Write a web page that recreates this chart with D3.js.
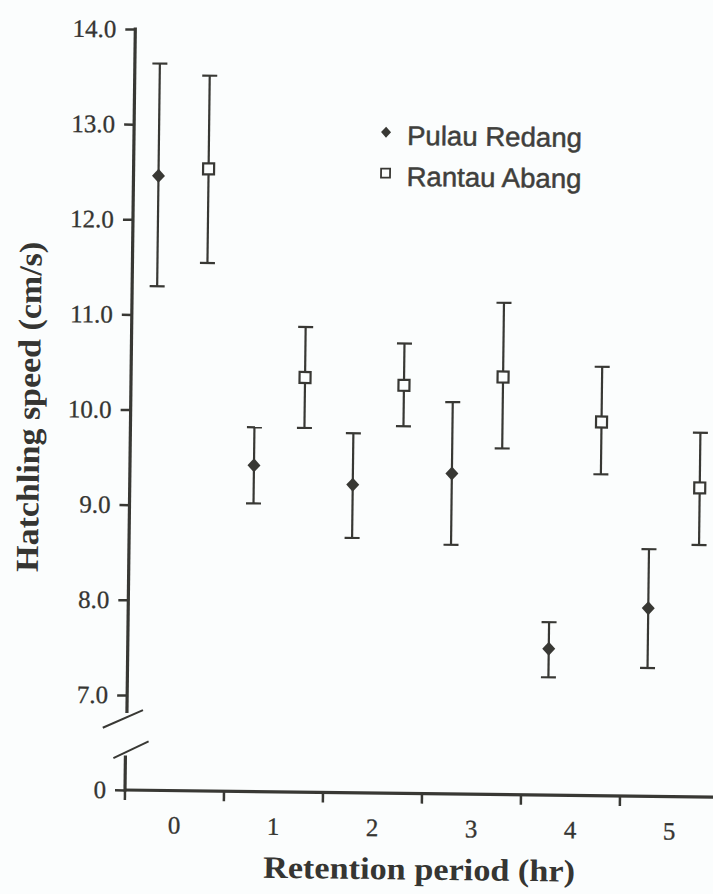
<!DOCTYPE html>
<meta charset="utf-8">
<style>
body {
	margin: 0;
	padding: 0;
	background: #fbfdfd;
}
svg text {
	fill: #353532;
}
.tick-label {
	font-family: "Liberation Serif", "Times New Roman", serif;
	font-size: 25px;
	stroke: #353532;
	stroke-width: 0.3px;
}
.axis-title {
	font-family: "Liberation Serif", "Times New Roman", serif;
	font-weight: bold;
}
.legend-label {
	font-family: "Liberation Sans", Arial, sans-serif;
	font-size: 27px;
	fill: #3f3f3c;
	stroke: #3f3f3c;
	stroke-width: 0.5px;
}
</style>
<body>
<div id="chart"></div>
<script src="https://cdn.jsdelivr.net/npm/d3@7/dist/d3.min.js"></script>
<script>

// retention period (hr) and hatchling speed (cm/s), mean with error bar ends
var periods = [0, 1, 2, 3, 4, 5];

var redangMean  = [12.46, 9.43, 9.24, 9.37, 7.54, 7.98];
var redangUpper = [13.64, 9.83, 9.78, 10.12, 7.82, 8.60];
var redangLower = [11.30, 9.03, 8.68, 8.62, 7.24, 7.35];

var abangMean  = [12.54, 10.36, 10.29, 10.39, 9.93, 9.25];
var abangUpper = [13.52, 10.89, 10.73, 11.17, 10.51, 9.83];
var abangLower = [11.55, 9.83, 9.86, 9.64, 9.38, 8.65];

var yTicks = [7, 8, 9, 10, 11, 12, 13, 14];
var seriesNames = ["Pulau Redang", "Rantau Abang"];

var width = 713, height = 894;
var ink = "#383834";

var svg = d3.select("#chart").append("svg")
	.attr("width", width)
	.attr("height", height);

// the scanned figure sits slightly askew
var g = svg.append("g")
	.attr("transform", "rotate(0.7, 126, 790)");

var axisX = 126, baseY = 790;

var x = d3.scaleBand()
	.domain(periods)
	.range([125, 125 + 6 * 99])
	.paddingInner(0).paddingOuter(0);

var y = d3.scaleLinear()
	.domain([7, 14])
	.range([695, 29]);

// lower stub of the broken y axis, only holds the 0
var yLow = d3.scaleLinear()
	.domain([0, 1])
	.range([baseY, 742]);

// y axis (upper part)
var yAxis = d3.axisLeft(y)
	.tickValues(yTicks)
	.tickFormat(d3.format(".1f"))
	.tickSize(10)
	.tickPadding(9)
	.tickSizeOuter(0);

var ya = g.append("g")
	.attr("transform", "translate(" + axisX + ",0)")
	.call(yAxis);
ya.select(".domain").remove();
ya.selectAll(".tick line").attr("stroke", ink).attr("stroke-width", 2.5);
ya.selectAll(".tick text").attr("class", "tick-label").attr("font-family", null).attr("font-size", null);

g.append("line")
	.attr("x1", axisX).attr("x2", axisX)
	.attr("y1", y(14) - 1.5).attr("y2", y(7) + 18)
	.attr("stroke", ink).attr("stroke-width", 3.2);

// lower part with the 0
var yl = g.append("g")
	.attr("transform", "translate(" + (axisX - 1) + ",0)")
	.call(d3.axisLeft(yLow).tickValues([0]).tickFormat(d3.format("d")).tickSize(10).tickPadding(9).tickSizeOuter(0));
yl.select(".domain").remove();
yl.selectAll(".tick line").attr("stroke", ink).attr("stroke-width", 2.5);
yl.selectAll(".tick text").attr("class", "tick-label").attr("font-family", null).attr("font-size", null);

g.append("line")
	.attr("x1", axisX - 1).attr("x2", axisX - 1)
	.attr("y1", yLow(0) + 1.5).attr("y2", yLow(0.72))
	.attr("stroke", ink).attr("stroke-width", 3.2);

// break marks
g.append("line")
	.attr("x1", axisX - 24).attr("y1", y(7) + 33)
	.attr("x2", axisX + 16).attr("y2", y(7) + 15)
	.attr("stroke", ink).attr("stroke-width", 2);
g.append("line")
	.attr("x1", axisX - 13).attr("y1", yLow(0.66))
	.attr("x2", axisX + 22).attr("y2", yLow(1.02))
	.attr("stroke", ink).attr("stroke-width", 2);

// x axis
g.append("line")
	.attr("x1", axisX - 2).attr("x2", width + 10)
	.attr("y1", baseY).attr("y2", baseY)
	.attr("stroke", ink).attr("stroke-width", 3.2);

g.selectAll(".xtick")
	.data(periods)
	.enter().append("line")
	.attr("class", "xtick")
	.attr("x1", function(d) { return x(d); })
	.attr("x2", function(d) { return x(d); })
	.attr("y1", baseY)
	.attr("y2", baseY + 10)
	.attr("stroke", ink).attr("stroke-width", 2.5);

g.selectAll(".xlabel")
	.data(periods)
	.enter().append("text")
	.attr("class", "tick-label")
	.attr("x", function(d) { return x(d) + x.bandwidth() / 2; })
	.attr("y", 833)
	.attr("text-anchor", "middle")
	.text(function(d) { return d; });

// axis titles
g.append("text")
	.attr("class", "axis-title")
	.attr("x", 420)
	.attr("y", 876)
	.attr("text-anchor", "middle")
	.attr("font-size", 31)
	.attr("textLength", 312)
	.attr("lengthAdjust", "spacingAndGlyphs")
	.text("Retention period (hr)");

g.append("text")
	.attr("class", "axis-title")
	.attr("transform", "translate(35,408) rotate(-90)")
	.attr("text-anchor", "middle")
	.attr("font-size", 32)
	.attr("textLength", 330)
	.attr("lengthAdjust", "spacingAndGlyphs")
	.text("Hatchling speed (cm/s)");

// series
var series = [
	{name: seriesNames[0], mean: redangMean, upper: redangUpper, lower: redangLower, dx: -23.5, shape: "diamond"},
	{name: seriesNames[1], mean: abangMean, upper: abangUpper, lower: abangLower, dx: 26.5, shape: "square"}
];

var diamond = "M0,-7L6.5,0L0,7L-6.5,0Z";
var capW = 7.5;

series.forEach(function(s) {
	var pts = periods.map(function(p, i) {
		return {cx: x(p) + x.bandwidth() / 2 + s.dx, m: s.mean[i], hi: s.upper[i], lo: s.lower[i]};
	});
	var sg = g.append("g");

	sg.selectAll(".bar").data(pts).enter().append("line")
		.attr("x1", function(d) { return d.cx; })
		.attr("x2", function(d) { return d.cx; })
		.attr("y1", function(d) { return y(d.hi); })
		.attr("y2", function(d) { return y(d.lo); })
		.attr("stroke", ink).attr("stroke-width", 2.2);

	sg.selectAll(".capHi").data(pts).enter().append("line")
		.attr("x1", function(d) { return d.cx - capW; })
		.attr("x2", function(d) { return d.cx + capW; })
		.attr("y1", function(d) { return y(d.hi); })
		.attr("y2", function(d) { return y(d.hi); })
		.attr("stroke", ink).attr("stroke-width", 2.2);

	sg.selectAll(".capLo").data(pts).enter().append("line")
		.attr("x1", function(d) { return d.cx - capW; })
		.attr("x2", function(d) { return d.cx + capW; })
		.attr("y1", function(d) { return y(d.lo); })
		.attr("y2", function(d) { return y(d.lo); })
		.attr("stroke", ink).attr("stroke-width", 2.2);

	if (s.shape === "diamond") {
		sg.selectAll(".mark").data(pts).enter().append("path")
			.attr("d", diamond)
			.attr("transform", function(d) { return "translate(" + d.cx + "," + y(d.m) + ")"; })
			.attr("fill", ink);
	} else {
		sg.selectAll(".mark").data(pts).enter().append("rect")
			.attr("x", function(d) { return d.cx - 5.5; })
			.attr("y", function(d) { return y(d.m) - 5.5; })
			.attr("width", 11).attr("height", 11)
			.attr("fill", "#fbfdfd")
			.attr("stroke", ink).attr("stroke-width", 2.2);
	}
});

// legend
var legend = g.append("g").attr("transform", "translate(378,129)");

legend.append("path")
	.attr("d", "M0,-5.5L5,0L0,5.5L-5,0Z")
	.attr("fill", ink);
legend.append("text")
	.attr("class", "legend-label")
	.attr("x", 21).attr("y", 12.5)
	.attr("textLength", 175)
	.attr("lengthAdjust", "spacingAndGlyphs")
	.text(seriesNames[0]);

legend.append("rect")
	.attr("x", -4.5).attr("y", 41 - 4.5)
	.attr("width", 9).attr("height", 9)
	.attr("fill", "#fbfdfd")
	.attr("stroke", ink).attr("stroke-width", 1.8);
legend.append("text")
	.attr("class", "legend-label")
	.attr("x", 21).attr("y", 53.5)
	.attr("textLength", 175)
	.attr("lengthAdjust", "spacingAndGlyphs")
	.text(seriesNames[1]);

</script>
</body>
